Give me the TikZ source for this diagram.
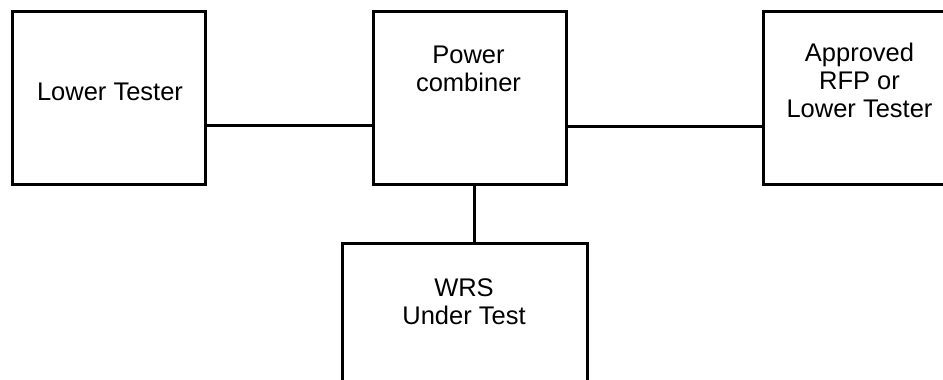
\documentclass[tikz,border=0pt]{standalone}
\usepackage{fontspec}
\setmainfont{Liberation Sans}
\begin{document}
\begin{tikzpicture}[x=1pt, y=-1pt,
  unit/.style={draw, line width=3pt, inner sep=0pt, minimum width=193pt, minimum height=173pt},
  caption/.style={inner sep=0pt, align=center, font=\fontsize{25.5}{28}\selectfont},
  wire/.style={line width=3pt}]
\useasboundingbox (0,0) rectangle (943,380);
\clip (0,0) rectangle (943,380);
\node[unit] (lt) at (108.5,97.5) {};
\node[unit] (pc) at (470,97.5) {};
\node[unit] (rfp) at (859.5,97.5) {};
\node[unit, minimum width=245pt] (wrs) at (464.5,329.5) {};
\node[caption] (lt-text) at (110,91.5) {Lower Tester};
\node[caption] (pc-text) at (468.5,68.5) {Power\\combiner};
\node[caption] (rfp-text) at (859.5,80.5) {Approved\\RFP or\\Lower Tester};
\node[caption] (wrs-text) at (464,301.5) {WRS\\Under Test};
\draw[wire] ([yshift=-28pt]lt.east) -- ([yshift=-28pt]pc.west);
\draw[wire] ([yshift=-29pt]pc.east) -- ([yshift=-29pt]rfp.west);
\draw[wire] ([xshift=4pt]pc.south) -- ([xshift=4pt]pc.south |- wrs.north);
\end{tikzpicture}
\end{document}
